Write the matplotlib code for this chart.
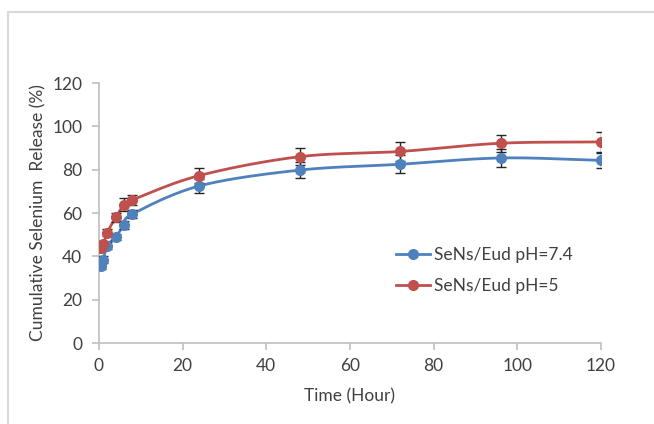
import numpy as np
import matplotlib.pyplot as plt
from matplotlib.patches import Rectangle

# release data
time_h = [0.5, 1, 2, 4, 6, 8, 24, 48, 72, 96, 120]
ph74 = [35.5, 38.5, 45, 49, 54.5, 59.5, 72.5, 79.8, 82.5, 85.4, 84.3]
ph74_err = [1.5, 1.5, 1.5, 1.5, 1.8, 2.0, 3.2, 3.8, 4.2, 4.2, 3.5]
ph5 = [44, 45.5, 51, 58, 63.7, 66, 77.3, 86, 88.4, 92.2, 92.8]
ph5_err = [1.5, 1.5, 1.8, 2.0, 3.0, 2.5, 3.5, 3.8, 4.6, 3.9, 4.8]

BLUE = '#4F81BD'
RED = '#C0504D'
AXIS = '#BFBFBF'
TEXT = '#404040'

plt.rcParams['font.family'] = ['Lato', 'DejaVu Sans']


# smooth line like the spreadsheet "smoothed line" option (Catmull-Rom through points)
def smooth(x, y, n=20):
    x = np.asarray(x, float)
    y = np.asarray(y, float)
    px = np.concatenate([[2 * x[0] - x[1]], x, [2 * x[-1] - x[-2]]])
    py = np.concatenate([[2 * y[0] - y[1]], y, [2 * y[-1] - y[-2]]])
    xs, ys = [], []
    t = np.linspace(0, 1, n, endpoint=False)
    for i in range(1, len(px) - 2):
        for arr, out in ((px, xs), (py, ys)):
            p0, p1, p2, p3 = arr[i - 1], arr[i], arr[i + 1], arr[i + 2]
            out.extend(0.5 * ((2 * p1) + (-p0 + p2) * t
                              + (2 * p0 - 5 * p1 + 4 * p2 - p3) * t ** 2
                              + (-p0 + 3 * p1 - 3 * p2 + p3) * t ** 3))
    xs.append(x[-1])
    ys.append(y[-1])
    return xs, ys


fig = plt.figure(figsize=(6.54, 4.24), dpi=100)
fig.patches.append(Rectangle((8 / 654, -0.1), 1.2, 1 - 12 / 424 + 0.1,
                             transform=fig.transFigure, fill=False,
                             edgecolor='#D9D9D9', linewidth=1.5))
ax = fig.add_axes([99 / 654, 1 - 343 / 424, (601 - 99) / 654, (343 - 83) / 424])

for y, err, c, lab in ((ph74, ph74_err, BLUE, 'SeNs/Eud pH=7.4'),
                       (ph5, ph5_err, RED, 'SeNs/Eud pH=5')):
    sx, sy = smooth(time_h, y)
    ax.plot(sx, sy, color=c, lw=2.0, zorder=2)
    ax.errorbar(time_h, y, yerr=err, fmt='none', ecolor='#262626',
                elinewidth=1.0, capsize=3.5, capthick=1.0, zorder=3)
    ax.plot(time_h, y, 'o', color=c, ms=7, zorder=4)
    ax.plot([], [], '-o', color=c, lw=2.0, ms=7, label=lab)

ax.set_xlim(0, 120)
ax.set_ylim(0, 120)
ax.set_xticks(range(0, 121, 20))
ax.set_yticks(range(0, 121, 20))
for s in ('top', 'right'):
    ax.spines[s].set_visible(False)
for s in ('left', 'bottom'):
    ax.spines[s].set_color(AXIS)
    ax.spines[s].set_linewidth(1.2)
ax.tick_params(colors=AXIS, labelcolor=TEXT, labelsize=12.5,
               length=5, width=1.2, direction='out')
ax.tick_params(axis='x', pad=6)
ax.tick_params(axis='y', pad=7)
ax.set_xlabel('Time (Hour)', fontsize=12.5, color=TEXT, labelpad=10)
ax.set_ylabel('Cumulative Selenium  Release (%)', fontsize=12.5,
              color=TEXT, labelpad=4)

ax.legend(loc='upper left', bbox_to_anchor=(0.56, 0.43), frameon=False,
          fontsize=12.5, labelcolor=TEXT, handlelength=2.0,
          handletextpad=0.2, labelspacing=0.85)

fig.savefig('out.png', dpi=100)
